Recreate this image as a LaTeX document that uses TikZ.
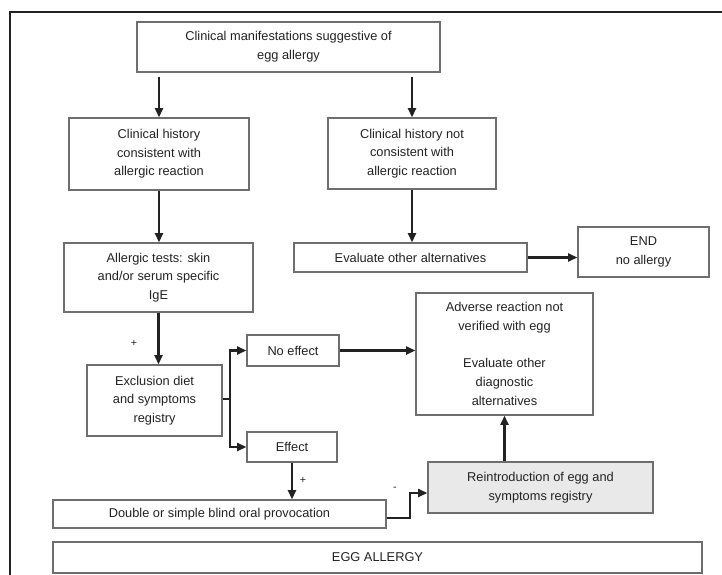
\documentclass[tikz,border=0pt]{standalone}
\usepackage{fontspec}
\setmainfont{Liberation Sans}
\usetikzlibrary{arrows.meta}
\definecolor{ink}{HTML}{222222}
\definecolor{edge}{HTML}{6E6E6E}
\definecolor{shade}{HTML}{E9E9E9}
\begin{document}
\begin{tikzpicture}[x=0.75pt,y=-0.75pt,
  box/.style={draw=edge,line width=0.9pt,rectangle,align=center,inner sep=2pt,
    text=ink,font=\fontsize{9.6}{14}\selectfont},
  arr/.style={draw=ink,line width=1.6pt,-{Triangle[length=7pt,width=6pt]}},
  ln/.style={draw=ink,line width=1.6pt},
  sign/.style={text=ink,font=\fontsize{8}{9}\selectfont,inner sep=0pt}]
\useasboundingbox (0,0) rectangle (722,575);
% page frame
\draw[ink,line width=1.5pt] (10,575) -- (10,12) -- (722,12);

% boxes
\node[box,minimum width=227.25pt,minimum height=37.5pt] (top) at (288.5,47)
  {Clinical manifestations suggestive of\\egg allergy};
\node[box,minimum width=135pt,minimum height=54pt] (hyes) at (159,154)
  {Clinical history\\consistent with\\allergic reaction};
\node[box,minimum width=126pt,minimum height=53.25pt] (hno) at (412,153.5)
  {Clinical history not\\consistent with\\allergic reaction};
\node[box,minimum width=141.75pt,minimum height=51.75pt] (tests) at (158.5,277.5)
  {Allergic tests: skin\\and/or serum specific\\IgE};
\node[box,minimum width=174.75pt,minimum height=21.75pt] (evalalt) at (410.5,257.5)
  {Evaluate other alternatives};
\node[box,minimum width=98.25pt,minimum height=37.5pt] (theend) at (643.5,252)
  {END\\no allergy};
\node[box,minimum width=132.75pt,minimum height=91.5pt] (adverse) at (504.5,354)
  {Adverse reaction not\\verified with egg\\[14pt]Evaluate other\\diagnostic\\alternatives};
\node[box,minimum width=101.25pt,minimum height=53.25pt] (excl) at (154.5,400.5)
  {Exclusion diet\\and symptoms\\registry};
\node[box,minimum width=69pt,minimum height=23.25pt] (noeff) at (293,350.5)
  {No effect};
\node[box,minimum width=67.5pt,minimum height=22.5pt] (eff) at (292,447)
  {Effect};
\node[box,minimum width=249.75pt,minimum height=21pt] (prov) at (219.5,514)
  {Double or simple blind oral provocation};
\node[box,fill=shade,minimum width=168.75pt,minimum height=38.25pt] (reintro) at (540.5,487.5)
  {Reintroduction of egg and\\symptoms registry};
\node[box,minimum width=486.75pt,minimum height=23.25pt] (egg) at (377.5,557.5)
  {EGG ALLERGY};

% connectors
\draw[arr] ([yshift=-3pt]top.south -| hyes.north) -- (hyes.north);
\draw[arr] ([yshift=-3pt]top.south -| hno.north) -- (hno.north);
\draw[arr] (hyes.south) -- (hyes.south |- tests.north);
\draw[arr] (hno.south) -- (hno.south |- evalalt.north);
\draw[arr] (evalalt.east) -- (evalalt.east -| theend.west);
\draw[arr] (tests.south) -- (tests.south |- excl.north);
\node[sign] (plusA) at (134,343) {+};

\coordinate (split) at (230,399);
\draw[ln] (excl.east |- split) -- (split);
\draw[arr] (split) |- (noeff.west);
\draw[arr] (split) |- (eff.west);
\draw[arr] (noeff.east) -- (noeff.east -| adverse.west);

\draw[arr] (eff.south) -- (eff.south |- prov.north);
\node[sign] (plusB) at (303,480) {+};

\coordinate (turn) at (410,493);
\draw[arr] ([yshift=-3pt]prov.east) -| (turn) -- (turn -| reintro.west);
\node[sign] (minus) at (395,489) {-};

\draw[arr] (reintro.north -| adverse.south) -- (adverse.south);
\end{tikzpicture}
\end{document}
